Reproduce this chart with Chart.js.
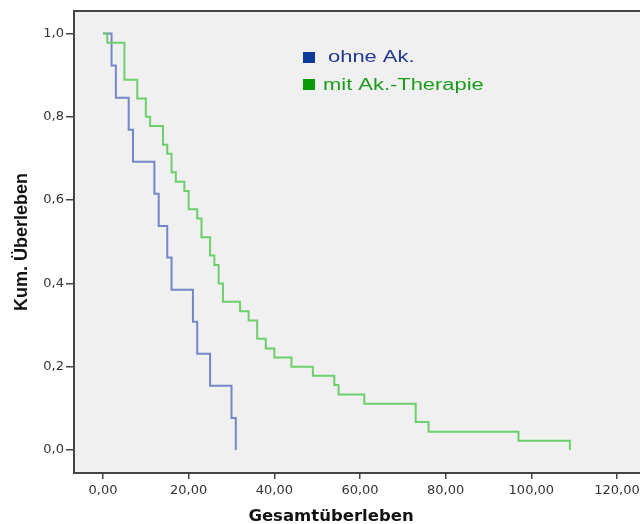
<!DOCTYPE html>
<html>
<head>
<meta charset="utf-8">
<script src="https://cdn.jsdelivr.net/npm/chart.js@4/dist/chart.umd.min.js"></script>
<style>
  html, body { margin: 0; padding: 0; background: #fff; }
</style>
</head>
<body>
<canvas id="km" width="640" height="524"></canvas>
<script>
// Kaplan-Meier curves, values
const groupLabels = ['ohne Ak.', 'mit Ak.-Therapie'];

const ohneTimes = [0, 2, 3, 6, 7, 12, 13, 15, 16, 21, 22, 25, 30, 31];
const ohneSurv  = [1.0, 0.923, 0.846, 0.769, 0.692, 0.615, 0.538, 0.462, 0.385, 0.308, 0.231, 0.154, 0.077, 0.0];

const mitTimes = [0, 1, 5, 8, 10, 11, 14, 15, 16, 17, 19, 20, 22, 23, 25, 26, 27, 28, 32, 34, 36, 38, 40, 44, 49, 54, 55, 61, 73, 76, 97, 109];
const mitSurv  = [1.0, 0.978, 0.889, 0.844, 0.8, 0.778, 0.733, 0.711, 0.667, 0.644, 0.622, 0.578, 0.556, 0.511, 0.467, 0.444, 0.4, 0.356, 0.333, 0.311, 0.267, 0.244, 0.222, 0.2, 0.178, 0.156, 0.133, 0.111, 0.067, 0.044, 0.022, 0.0];

// axis ticks
const xTicks = [0, 20, 40, 60, 80, 100, 120];
const xTickLabels = ['0,00', '20,00', '40,00', '60,00', '80,00', '100,00', '120,00'];
const yTicks = [0, 0.2, 0.4, 0.6, 0.8, 1.0];
const yTickLabels = ['0,0', '0,2', '0,4', '0,6', '0,8', '1,0'];

const xTitle = 'Gesamtüberleben';
const yTitle = 'Kum. Überleben';

// colours
const lineColors = ['#7587c9', '#6ccf6c'];
const boxColors = ['#0b3a99', '#0a9a0a'];
const textColors = ['#22398f', '#1b9d1b'];
const axisColor = '#454545';

const toPoints = (t, s) => t.map((v, i) => ({ x: v, y: s[i] }));

// background, top edge of the box, legend inside plot, x title
const framePlugin = {
  id: 'frame',
  beforeDraw(chart) {
    const { ctx, chartArea: a } = chart;
    ctx.save();
    ctx.fillStyle = '#ffffff';
    ctx.fillRect(0, 0, chart.width, chart.height);
    ctx.fillStyle = '#f0f0f0';
    ctx.fillRect(a.left, a.top, a.right - a.left, a.bottom - a.top);
    ctx.restore();
  },
  afterDraw(chart) {
    const { ctx, chartArea: a } = chart;
    ctx.save();
    ctx.strokeStyle = axisColor;
    ctx.lineWidth = 2;
    ctx.beginPath();
    ctx.moveTo(a.left, a.top);
    ctx.lineTo(a.right, a.top);
    ctx.stroke();

    // legend
    const rows = [
      { box: [303, 52], text: [328, 62] },
      { box: [303, 79], text: [323, 90] }
    ];
    ctx.font = '16px "Liberation Sans", Arial, sans-serif';
    ctx.textBaseline = 'alphabetic';
    ctx.textAlign = 'left';
    rows.forEach((r, i) => {
      ctx.fillStyle = boxColors[i];
      ctx.fillRect(r.box[0], r.box[1], 12, 11);
      ctx.save();
      ctx.translate(r.text[0], r.text[1]);
      ctx.scale(1.37, 1);
      ctx.fillStyle = textColors[i];
      ctx.fillText(groupLabels[i], 0, 0);
      ctx.restore();
    });

    // x axis title
    ctx.font = 'bold 16.5px "DejaVu Sans", sans-serif';
    ctx.fillStyle = '#111';
    ctx.textAlign = 'center';
    ctx.fillText(xTitle, 331, 521);
    ctx.restore();
  }
};

new Chart(document.getElementById('km'), {
  type: 'line',
  data: {
    datasets: [
      {
        label: groupLabels[0],
        data: toPoints(ohneTimes, ohneSurv),
        borderColor: lineColors[0],
        borderWidth: 2,
        stepped: true,
        pointRadius: 0,
        fill: false,
        order: 1
      },
      {
        label: groupLabels[1],
        data: toPoints(mitTimes, mitSurv),
        borderColor: lineColors[1],
        borderWidth: 2,
        stepped: true,
        pointRadius: 0,
        fill: false,
        order: 0
      }
    ]
  },
  options: {
    responsive: false,
    animation: false,
    events: [],
    layout: { padding: { top: 11, right: 0, bottom: 0, left: 0 } },
    plugins: {
      legend: { display: false },
      tooltip: { enabled: false }
    },
    scales: {
      x: {
        type: 'linear',
        position: 'bottom',
        min: -6.77,
        max: 125.37,
        afterBuildTicks: (s) => { s.ticks = xTicks.map(v => ({ value: v })); },
        afterFit: (s) => { s.height = 51; s.paddingLeft = 0; s.paddingRight = 0; },
        ticks: {
          autoSkip: false,
          maxRotation: 0,
          padding: 4,
          color: '#333',
          font: { family: '"DejaVu Sans", sans-serif', size: 13 },
          callback: (v, i) => xTickLabels[i]
        },
        grid: { drawOnChartArea: false, drawTicks: true, tickLength: 6, color: axisColor, lineWidth: 1.5 },
        border: { display: true, color: axisColor, width: 2 }
      },
      y: {
        type: 'linear',
        min: -0.0552,
        max: 1.054,
        afterBuildTicks: (s) => { s.ticks = yTicks.map(v => ({ value: v })); },
        afterFit: (s) => { s.width = 74; s.paddingTop = 0; s.paddingBottom = 0; },
        ticks: {
          autoSkip: false,
          padding: 2,
          color: '#333',
          font: { family: '"DejaVu Sans", sans-serif', size: 13 },
          callback: (v, i) => yTickLabels[i]
        },
        title: {
          display: true,
          text: yTitle,
          color: '#111',
          font: { family: '"Liberation Sans", Arial, sans-serif', size: 18, weight: 'bold' },
          padding: { top: 11, bottom: 0 }
        },
        grid: { drawOnChartArea: false, drawTicks: true, tickLength: 8, color: axisColor, lineWidth: 1.5 },
        border: { display: true, color: axisColor, width: 2 }
      }
    }
  },
  plugins: [framePlugin]
});
</script>
</body>
</html>
